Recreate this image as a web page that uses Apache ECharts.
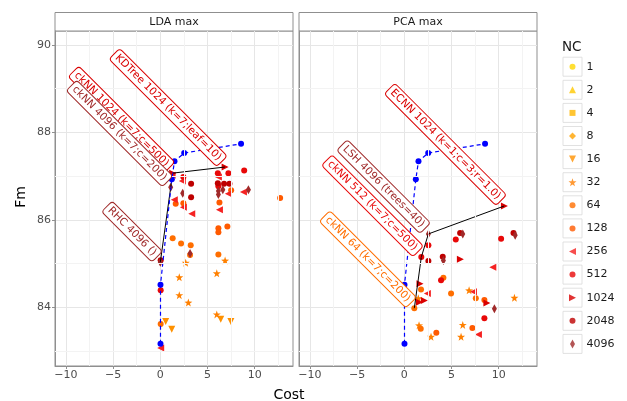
<!DOCTYPE html>
<html><head><meta charset="utf-8">
<script src="https://cdn.jsdelivr.net/npm/echarts@6/dist/echarts.min.js"></script>
<style>html,body{margin:0;padding:0;background:#fff}#c{width:627px;height:401px}</style>
</head><body><div id="c"></div>
<script>
// ---------- data ----------
const ncLevels = ['1','2','4','8','16','32','64','128','256','512','1024','2048','4096'];
const ncColors = ['#FFD700','#FFC800','#FFB600','#FFA300','#FF9100','#FF8000','#FF6E00','#FF5A00','#F52222','#E80808','#DA0000','#BE0000','#A02A2A'];
const panelNames = ['LDA max','PCA max'];
const xTicks = [-10,-5,0,5,10];
const xMinor = [-7.5,-2.5,2.5,7.5,12.5];
const yTicks = [84,86,88,90];
const yMinor = [83,85,87,89];

// LDA max: [Cost, Fm]
const lda16 = [[0.57,83.68],[1.21,83.50],[6.40,83.73],[7.47,83.68]];
const lda32 = [[2.69,85.02],[5.98,84.78],[2.01,84.69],[2.01,84.28],[2.97,84.11],[5.98,83.84],[6.86,85.07]];
const lda64 = [[1.31,85.58],[2.20,85.46],[3.22,85.42],[3.15,85.20],[6.15,85.21],[0.04,83.62]];
const lda128 = [[1.63,86.37],[2.44,86.38],[7.50,86.68],[6.26,86.40],[12.69,86.50],[6.15,85.81],[6.15,85.72],[7.10,85.85]];
const lda256 = [[2.33,86.89],[1.48,86.46],[2.44,86.29],[3.33,86.14],[6.15,86.98],[7.21,86.60],[8.80,86.64],[6.26,86.23],[1.25,87.02],[0.04,83.07]];
const lda512 = [[2.44,86.98],[6.09,87.07],[7.21,87.07],[8.88,87.13],[6.15,86.77],[0.04,84.39]];
const lda1024 = [];
const lda2048 = [[3.26,86.83],[3.26,86.52],[6.09,86.84],[6.75,86.83],[7.32,86.83],[0.04,85.08]];
const lda4096 = [[2.37,86.61],[6.15,86.66],[6.62,86.69],[6.15,86.58],[9.33,86.69],[3.15,85.23]];
// labelled configurations: [text, NC, Cost, Fm]
const ldaLabeled = [
  ['KDTree 1024 (k=7;leaf=10)','1024',6.86,87.21],
  ['ckNN 1024 (k=7;c=500)','1024',1.31,87.07],
  ['ckNN 4096 (k=7;c=200)','4096',1.10,86.75],
  ['RHC 4096 ()','4096',0.00,85.03]
];
const ldaFront = [[0.00,85.03],[1.31,87.07],[6.86,87.21]];

// PCA max
const pca16 = [];
const pca32 = [[6.86,84.39],[11.66,84.22],[1.48,84.21],[1.56,83.59],[2.83,83.33],[6.19,83.60],[6.01,83.33]];
const pca64 = [[1.77,84.41],[4.95,84.32],[7.57,84.21],[1.74,83.51],[4.14,84.68]];
const pca128 = [[8.48,84.17],[3.39,83.42],[7.21,83.53]];
const pca256 = [[9.37,84.92],[2.44,84.32],[7.32,84.36],[7.85,83.38]];
const pca512 = [[5.45,85.55],[10.25,85.57],[2.55,85.42],[3.89,84.62],[8.48,83.75]];
const pca1024 = [[5.94,85.10],[1.66,84.54],[8.74,84.10],[2.12,84.16],[1.59,84.12]];
const pca2048 = [[5.91,85.70],[11.56,85.70],[2.55,85.06],[4.07,85.16]];
const pca4096 = [[6.19,85.68],[11.74,85.65],[4.14,85.07],[9.54,83.97]];
const pcaLabeled = [
  ['ECNN 1024 (k=1;c=3;r=1.0)','1024',10.60,86.32],
  ['LSH 4096 (trees=40)','4096',2.55,85.68],
  ['ckNN 512 (k=7;c=500)','512',1.80,85.15],
  ['ckNN 64 (k=7;c=200)','64',1.06,83.98]
];
const pcaFront = [[1.06,83.98],[1.80,85.15],[2.55,85.68],[10.60,86.32]];

// blue dashed reference curve (same in both panels)
const bestCurve = [[0.02,83.17],[0.02,84.52],[1.22,86.93],[1.50,87.34],[2.53,87.53],[8.55,87.74]];

// ---------- styling ----------
const FONT = 'DejaVu Sans';
const DOWN = 'path://M0,0L10,0L5,9Z';
const LEFT = 'path://M9,0L9,10L0,5Z';
const RIGHT = 'path://M0,0L0,10L9,5Z';
const STAR = 'path://M5,0L6.18,3.38L9.76,3.45L6.9,5.62L7.94,9.05L5,7L2.06,9.05L3.1,5.62L0.24,3.45L3.82,3.38Z';
const ncSymbols = ['circle','triangle','rect','diamond',DOWN,STAR,'circle','circle',LEFT,'circle',RIGHT,'circle','diamond'];
const ncSizes = [6,7,6,7,7,8,6,6,7,6,7,6,[5,9]];

const panelData = [
  {pts:[[],[],[],[],lda16,lda32,lda64,lda128,lda256,lda512,lda1024,lda2048,lda4096], labeled:ldaLabeled, front:ldaFront},
  {pts:[[],[],[],[],pca16,pca32,pca64,pca128,pca256,pca512,pca1024,pca2048,pca4096], labeled:pcaLabeled, front:pcaFront}
];

const G = [{left:55, top:31, width:238, height:335},{left:299, top:31, width:238, height:335}];
const XMIN = -11.15, XMAX = 14.05, YMIN = 82.66, YMAX = 90.32;
const AX = '#8f8f8f';
const minus = v => v < 0 ? '\u2212' + Math.abs(v) : String(v);

const grids = [], xAxes = [], yAxes = [], series = [];
G.forEach((g, i) => {
  grids.push(Object.assign({show:true, borderColor:AX, borderWidth:1, containLabel:false}, g));
  xAxes.push({type:'value', gridIndex:i, min:XMIN, max:XMAX, position:'bottom',
    axisLine:{show:true, onZero:false, lineStyle:{color:AX}},
    axisTick:{show:true, length:3, lineStyle:{color:AX}, customValues:xTicks},
    axisLabel:{customValues:xTicks, formatter:v => xTicks.includes(v) ? minus(v) : '', color:'#4d4d4d', fontSize:11, fontFamily:FONT, margin:4},
    splitLine:{show:true, lineStyle:{color:'#e6e6e6', width:1}}
  });
  yAxes.push({type:'value', gridIndex:i, min:YMIN, max:YMAX, position:'left',
    axisLine:{show:true, onZero:false, lineStyle:{color:AX}},
    axisTick:{show:i===0, length:3, lineStyle:{color:AX}, customValues:yTicks},
    axisLabel:{show:i===0, customValues:yTicks, formatter:v => yTicks.includes(v) ? String(v) : '', color:'#4d4d4d', fontSize:11, fontFamily:FONT, margin:4},
    splitLine:{show:true, lineStyle:{color:'#e6e6e6', width:1}}
  });
  // minor grid lines
  series.push({type:'scatter', xAxisIndex:i, yAxisIndex:i, data:[], silent:true, z:1,
    markLine:{silent:true, symbol:['none','none'], label:{show:false}, animation:false,
      lineStyle:{color:'#f3f3f3', width:1, type:'solid'},
      data:[...xMinor.map(v => ({xAxis:v})), ...yMinor.map(v => ({yAxis:v}))]}
  });
  const pd = panelData[i];
  ncLevels.forEach((nc, k) => {
    const data = pd.pts[k].slice();
    pd.labeled.forEach(r => { if (r[1] === nc) data.push([r[2], r[3]]); });
    series.push({type:'scatter', name:nc, xAxisIndex:i, yAxisIndex:i, data:data,
      symbol:ncSymbols[k], symbolSize:ncSizes[k], itemStyle:{color:ncColors[k], opacity:1}, z:2});
  });
  series.push({type:'line', xAxisIndex:i, yAxisIndex:i, data:pd.front, symbol:'none',
    lineStyle:{color:'#000', width:1}, z:3, silent:true});
  series.push({type:'line', xAxisIndex:i, yAxisIndex:i, data:bestCurve, symbol:'circle', symbolSize:6,
    itemStyle:{color:'#0000ff'}, lineStyle:{color:'#0000ff', width:1.2, type:[4,3]}, z:4, silent:true});
  // label layer
  series.push({type:'scatter', xAxisIndex:i, yAxisIndex:i, symbol:'circle', symbolSize:1, z:6, zlevel:1, silent:true,
    data: pd.labeled.map(r => {
      const c = ncColors[ncLevels.indexOf(r[1])];
      return {value:[r[2], r[3]], itemStyle:{color:c, opacity:1}, label:{formatter:r[0], color:c, borderColor:c}};
    }),
    label:{show:true, position:[-3,-5.5], align:'right', verticalAlign:'middle', rotate:-45, fontSize:10.5, fontFamily:FONT, opacity:1,
      backgroundColor:'#ffffff', borderWidth:1, borderRadius:3, padding:[2,3,1,3]},
    labelLayout:{hideOverlap:false}
  });
});

// legend drawn as a small categorical panel
grids.push({left:562.5, top:55.15, width:20, height:300.3, show:false});
xAxes.push({type:'value', gridIndex:2, min:-1, max:1, show:false});
yAxes.push({type:'category', gridIndex:2, data:ncLevels, inverse:true, position:'right',
  axisLine:{show:false}, axisTick:{show:false}, splitLine:{show:false},
  axisLabel:{color:'#1a1a1a', fontSize:11, fontFamily:FONT, margin:4}});
series.push({type:'scatter', xAxisIndex:2, yAxisIndex:2, silent:true, z:1,
  data:ncLevels.map(c => [0, c]), symbol:'rect', symbolSize:19,
  itemStyle:{color:'#ffffff', borderColor:'#d9d9d9', borderWidth:1}});
series.push({type:'scatter', xAxisIndex:2, yAxisIndex:2, silent:true, z:2,
  data:ncLevels.map((c, k) => ({value:[0, c], symbol:ncSymbols[k], symbolSize:ncSizes[k], itemStyle:{color:ncColors[k]}}))});

const graphic = [];
G.forEach((g, i) => {
  graphic.push({type:'rect', shape:{x:g.left, y:12.5, width:g.width, height:18.5},
    style:{fill:'#ffffff', stroke:AX, lineWidth:1}, silent:true});
  graphic.push({type:'text', x:g.left + g.width/2, y:21.8,
    style:{text:panelNames[i], fill:'#1a1a1a', font:'11px "DejaVu Sans"', textAlign:'center', textVerticalAlign:'middle'}, silent:true});
});
graphic.push({type:'text', x:289, y:395, style:{text:'Cost', fill:'#000', font:'14px "DejaVu Sans"', textAlign:'center', textVerticalAlign:'middle'}, silent:true});
graphic.push({type:'text', x:21, y:197, rotation:Math.PI/2, style:{text:'Fm', fill:'#000', font:'14px "DejaVu Sans"', textAlign:'center', textVerticalAlign:'middle'}, silent:true});

const chart = echarts.init(document.getElementById('c'), null, {renderer:'canvas'});
chart.setOption({
  animation:false,
  backgroundColor:'#ffffff',
  title:{text:'NC', left:562, top:40, padding:0, textStyle:{fontSize:13.5, fontWeight:'normal', color:'#1a1a1a', fontFamily:FONT}},
  grid:grids, xAxis:xAxes, yAxis:yAxes, series:series, graphic:graphic
});
</script></body></html>
